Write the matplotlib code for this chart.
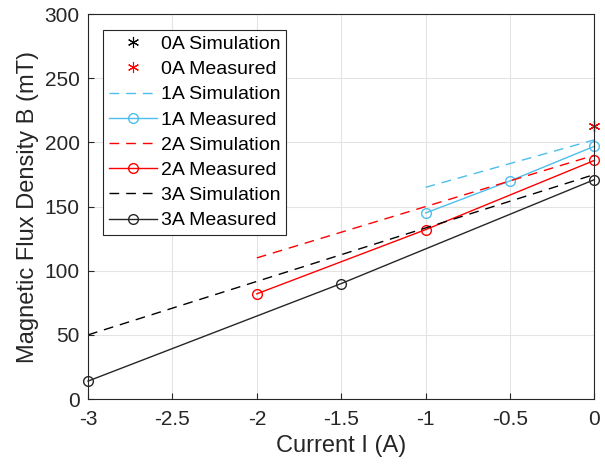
import matplotlib.pyplot as plt

plt.rcParams['font.family'] = ['Liberation Sans', 'DejaVu Sans']

# data
i0 = [0]
b0_sim = [213]
b0_meas = [213]

i1_sim = [-1, 0]
b1_sim = [165, 202]
i1_meas = [-1, -0.5, 0]
b1_meas = [145, 170, 197]

i2_sim = [-2, 0]
b2_sim = [110, 190]
i2_meas = [-2, -1, 0]
b2_meas = [82, 132, 186]

i3_sim = [-3, 0]
b3_sim = [50, 175]
i3_meas = [-3, -1.5, 0]
b3_meas = [14, 90, 171]

cyan = '#4DBEEE'
star = (6, 2, 0)

fig = plt.figure(figsize=(6.05, 4.7), dpi=100)
ax = fig.add_axes([0.1455, 0.151, 0.837, 0.819])

ax.plot(i0, b0_sim, ls='none', marker=star, color='black', ms=8, mew=0.8, clip_on=False, label='0A Simulation')
ax.plot(i0, b0_meas, ls='none', marker=star, color='red', ms=8, mew=0.8, clip_on=False, label='0A Measured')
ax.plot(i1_sim, b1_sim, '--', color=cyan, lw=1, dashes=(7, 5), label='1A Simulation')
ax.plot(i1_meas, b1_meas, '-o', color=cyan, lw=1, mfc='none', ms=7, clip_on=False, label='1A Measured')
ax.plot(i2_sim, b2_sim, '--', color='red', lw=1, dashes=(7, 5), label='2A Simulation')
ax.plot(i2_meas, b2_meas, '-o', color='red', lw=1, mfc='none', ms=7, clip_on=False, label='2A Measured')
ax.plot(i3_sim, b3_sim, '--', color='black', lw=1, dashes=(7, 5), label='3A Simulation')
ax.plot(i3_meas, b3_meas, '-o', color='#262626', lw=1, mfc='none', ms=7, clip_on=False, label='3A Measured')

ax.set_xlim(-3, 0)
ax.set_ylim(0, 300)
ax.set_xticks([-3, -2.5, -2, -1.5, -1, -0.5, 0])
ax.set_xticklabels(['-3', '-2.5', '-2', '-1.5', '-1', '-0.5', '0'])
ax.set_yticks(range(0, 301, 50))
ax.tick_params(direction='in', labelsize=15, colors='#262626', length=4)
ax.tick_params(axis='x', pad=8)
ax.tick_params(axis='y', pad=6)
ax.grid(True, color='#e3e3e3', lw=0.8)
ax.set_axisbelow(True)
for s in ax.spines.values():
    s.set_color('#262626')
ax.set_xlabel('Current I (A)', fontsize=17, color='#262626', labelpad=4)
ax.set_ylabel('Magnetic Flux Density B (mT)', fontsize=17, color='#262626', labelpad=4)

leg = ax.legend(loc='upper left', bbox_to_anchor=(0.01, 0.985), fontsize=14, frameon=True,
                fancybox=False, edgecolor='#262626', framealpha=1, handlelength=2.5,
                handletextpad=0.2, labelspacing=0.39, borderpad=0.3)
leg.get_frame().set_linewidth(0.8)

fig.savefig('out.png', dpi=100)
